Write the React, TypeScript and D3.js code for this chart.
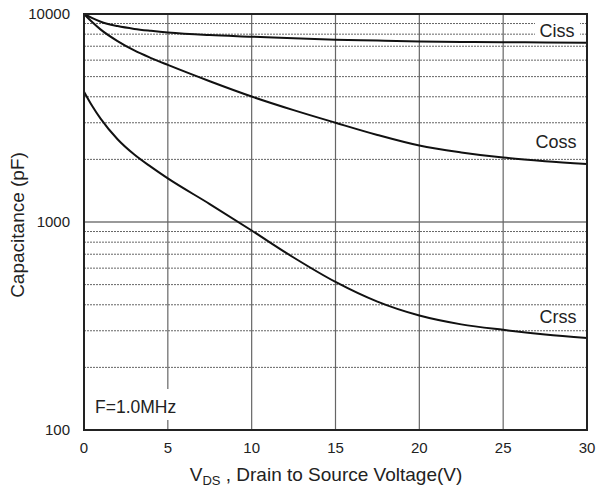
import React from "react";
import * as d3 from "d3";

// values (pF vs VDS)
const vds = [0, 0.5, 1, 2, 3, 4, 5, 7.5, 10, 12.5, 15, 17.5, 20, 22.5, 25, 27.5, 30];
const ciss = [10000, 9550, 9180, 8750, 8480, 8300, 8150, 7920, 7780, 7640, 7530, 7450, 7380, 7340, 7320, 7300, 7280];
const coss = [10000, 9120, 8410, 7410, 6680, 6140, 5690, 4750, 4010, 3450, 3000, 2620, 2330, 2160, 2040, 1960, 1900];
const crss = [4230, 3600, 3130, 2500, 2110, 1840, 1620, 1220, 910, 675, 515, 414, 355, 322, 303, 288, 277];

const xTicks = [0, 5, 10, 15, 20, 25, 30];
const yTicks = [100, 1000, 10000];
const minorY = [200, 300, 400, 500, 600, 700, 800, 900, 2000, 3000, 4000, 5000, 6000, 7000, 8000, 9000];

const W = 597, H = 487;
const margin = { top: 14, right: 10, bottom: 57, left: 84 };
const font = "'Liberation Sans', Arial, sans-serif";

export default function App() {
  const x = d3.scaleLinear().domain([0, 30]).range([margin.left, W - margin.right]);
  const y = d3.scaleLog().domain([100, 10000]).range([H - margin.bottom, margin.top]);

  const line = d3.line<[number, number]>()
    .x(d => x(d[0]))
    .y(d => y(d[1]))
    .curve(d3.curveMonotoneX);

  const series = [ciss, coss, crss].map(s => vds.map((v, i) => [v, s[i]] as [number, number]));

  const x0 = x(0), x1 = x(30), yTop = y(10000), yBot = y(100);

  return (
    <svg width={W} height={H} style={{ position: "absolute", left: 0, top: 0, background: "#fff" }}>
      {/* minor dotted grid */}
      {minorY.map(v => (
        <line key={"m" + v} x1={x0} x2={x1} y1={y(v)} y2={y(v)}
          stroke="#666" strokeWidth={1} strokeDasharray="2,1" />
      ))}
      {/* 1000 major line */}
      <line x1={x0} x2={x1} y1={y(1000)} y2={y(1000)} stroke="#999" strokeWidth={2} />
      {/* vertical grid */}
      {xTicks.slice(1, -1).map(v => (
        <line key={"v" + v} x1={x(v)} x2={x(v)} y1={yTop} y2={yBot} stroke="#666" strokeWidth={1.2} />
      ))}

      {/* label backgrounds */}
      <rect x={535} y={19} width={45} height={21} fill="#fff" />
      <rect x={90} y={389} width={92} height={31} fill="#fff" />

      {series.map((d, i) => (
        <path key={i} d={line(d) || ""} fill="none" stroke="#111" strokeWidth={2} />
      ))}

      {/* frame */}
      <rect x={x0} y={yTop} width={x1 - x0} height={yBot - yTop} fill="none" stroke="#222" strokeWidth={2} />

      {/* y tick labels */}
      {yTicks.map(v => (
        <text key={"yt" + v} x={70} y={y(v)} dy="0.35em" textAnchor="end"
          fontFamily={font} fontSize={15} fill="#222">{v}</text>
      ))}
      {/* x tick labels */}
      {xTicks.map(v => (
        <text key={"xt" + v} x={x(v)} y={453} textAnchor="middle"
          fontFamily={font} fontSize={15} fill="#222">{v}</text>
      ))}

      {/* curve labels */}
      <text x={557} y={37} textAnchor="middle" fontFamily={font} fontSize={18} fill="#222">Ciss</text>
      <text x={556} y={148} textAnchor="middle" fontFamily={font} fontSize={18} fill="#222">Coss</text>
      <text x={558} y={323} textAnchor="middle" fontFamily={font} fontSize={18} fill="#222">Crss</text>
      <text x={95} y={413} fontFamily={font} fontSize={17.5} fill="#222">F=1.0MHz</text>

      {/* axis titles */}
      <text x={326} y={481} textAnchor="middle" fontFamily={font} fontSize={19} fill="#222">
        V<tspan fontSize={13} dy={4}>DS</tspan><tspan dy={-4}> , Drain to Source Voltage(V)</tspan>
      </text>
      <text transform={`translate(24,${(yTop + yBot) / 2 + 3}) rotate(-90)`} textAnchor="middle"
        fontFamily={font} fontSize={19} fill="#222">Capacitance (pF)</text>
    </svg>
  );
}
